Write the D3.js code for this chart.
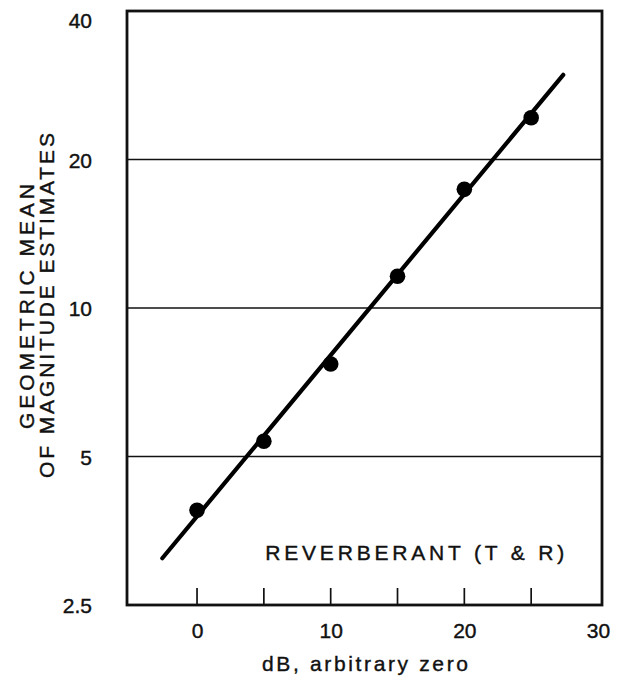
<!DOCTYPE html>
<html>
<head>
<meta charset="utf-8">
<script src="https://cdn.jsdelivr.net/npm/d3@7"></script>
<style>
  body { margin: 0; background: #fff; }
  svg { display: block; }
  text { font-family: "Liberation Sans", Arial, Helvetica, sans-serif; fill: #111; stroke: #111; stroke-width: 0.4px; }
</style>
</head>
<body>
<div id="chart"></div>
<script>
'use strict';

// data
let dbLevels = [0, 5, 10, 15, 20, 25];
let geoMeans = [3.89, 5.37, 7.7, 11.6, 17.4, 24.3];
let fitX = [-2.6, 27.4];
let fitY = [3.11, 29.7];
let xTickLabels = [0, 10, 20, 30];
let xMinorTicks = [0, 5, 10, 15, 20, 25];
let yTickLabels = [2.5, 5, 10, 20, 40];
let yGridLines = [5, 10, 20];

let width = 627,
    height = 682,
    margin = { top: 11, right: 25, bottom: 77, left: 127 };

let innerW = width - margin.left - margin.right,
    innerH = height - margin.top - margin.bottom;

let svg = d3.select('#chart').append('svg')
    .attr('width', width)
    .attr('height', height);

let g = svg.append('g')
    .attr('transform', 'translate(' + margin.left + ',' + margin.top + ')');

// scales
let x = d3.scaleLinear().domain([-5.24, 30.3]).range([0, innerW]);
let y = d3.scaleLog().domain([2.5, 40]).range([innerH, 0]);

// grid lines
g.selectAll('.grid')
    .data(yGridLines)
    .enter().append('line')
    .attr('class', 'grid')
    .attr('x1', 0)
    .attr('x2', innerW)
    .attr('y1', function(d) { return y(d); })
    .attr('y2', function(d) { return y(d); })
    .style('stroke', '#111')
    .style('stroke-width', 1.5);

// small ticks standing up from the bottom edge
g.selectAll('.minor')
    .data(xMinorTicks)
    .enter().append('line')
    .attr('class', 'minor')
    .attr('x1', function(d) { return x(d); })
    .attr('x2', function(d) { return x(d); })
    .attr('y1', innerH)
    .attr('y2', innerH - 17)
    .style('stroke', '#111')
    .style('stroke-width', 1.7);

// frame
g.append('rect')
    .attr('width', innerW)
    .attr('height', innerH)
    .style('fill', 'none')
    .style('stroke', '#111')
    .style('stroke-width', 2.8);

// axes (labels only)
let xAxis = d3.axisBottom(x).tickValues(xTickLabels).tickSize(0).tickPadding(18);
let yAxis = d3.axisLeft(y).tickValues(yTickLabels).tickSize(0).tickPadding(35)
    .tickFormat(function(d) { return String(d); });

let gX = g.append('g')
    .attr('transform', 'translate(0,' + innerH + ')')
    .call(xAxis);
let gY = g.append('g').call(yAxis);

[gX, gY].forEach(function(a) {
    a.select('.domain').remove();
    a.selectAll('text')
        .style('font-size', '21px')
        .style('font-family', '"Liberation Sans", Arial, sans-serif')
        .style('fill', '#111');
});
gX.selectAll('text').attr('dy', '0.72em');
gY.selectAll('text').attr('dy', '0.38em');
gY.selectAll('.tick').filter(function(d) { return d === 40; })
    .select('text').attr('dy', '0.8em');

// fitted line
let line = d3.line()
    .x(function(d) { return x(d[0]); })
    .y(function(d) { return y(d[1]); });

g.append('path')
    .datum(d3.zip(fitX, fitY))
    .attr('d', line)
    .style('fill', 'none')
    .style('stroke', '#000')
    .style('stroke-width', 4.2)
    .style('stroke-linecap', 'round');

// data points
g.selectAll('circle')
    .data(d3.zip(dbLevels, geoMeans))
    .enter().append('circle')
    .attr('cx', function(d) { return x(d[0]); })
    .attr('cy', function(d) { return y(d[1]); })
    .attr('r', 7.8)
    .style('fill', '#000');

// label inside the plot
g.append('text')
    .attr('x', x(5.1))
    .attr('y', y(3.2))
    .attr('dy', '0.36em')
    .attr('textLength', 299)
    .attr('lengthAdjust', 'spacing')
    .style('font-size', '21px')
    .text('REVERBERANT (T & R)');

// x axis title
svg.append('text')
    .attr('x', 262)
    .attr('y', 664)
    .attr('dy', '0.35em')
    .attr('textLength', 206)
    .attr('lengthAdjust', 'spacing')
    .style('font-size', '21px')
    .text('dB, arbitrary zero');

// y axis title, two lines
let yTitle = svg.append('g')
    .attr('transform', 'translate(0,' + (margin.top + innerH / 2) + ') rotate(-90)');
yTitle.append('text')
    .attr('x', -121)
    .attr('y', 34)
    .attr('textLength', 245)
    .attr('lengthAdjust', 'spacing')
    .style('font-size', '21px')
    .text('GEOMETRIC MEAN');
yTitle.append('text')
    .attr('x', -170)
    .attr('y', 54)
    .attr('textLength', 345)
    .attr('lengthAdjust', 'spacing')
    .style('font-size', '21px')
    .text('OF MAGNITUDE ESTIMATES');
</script>
</body>
</html>
